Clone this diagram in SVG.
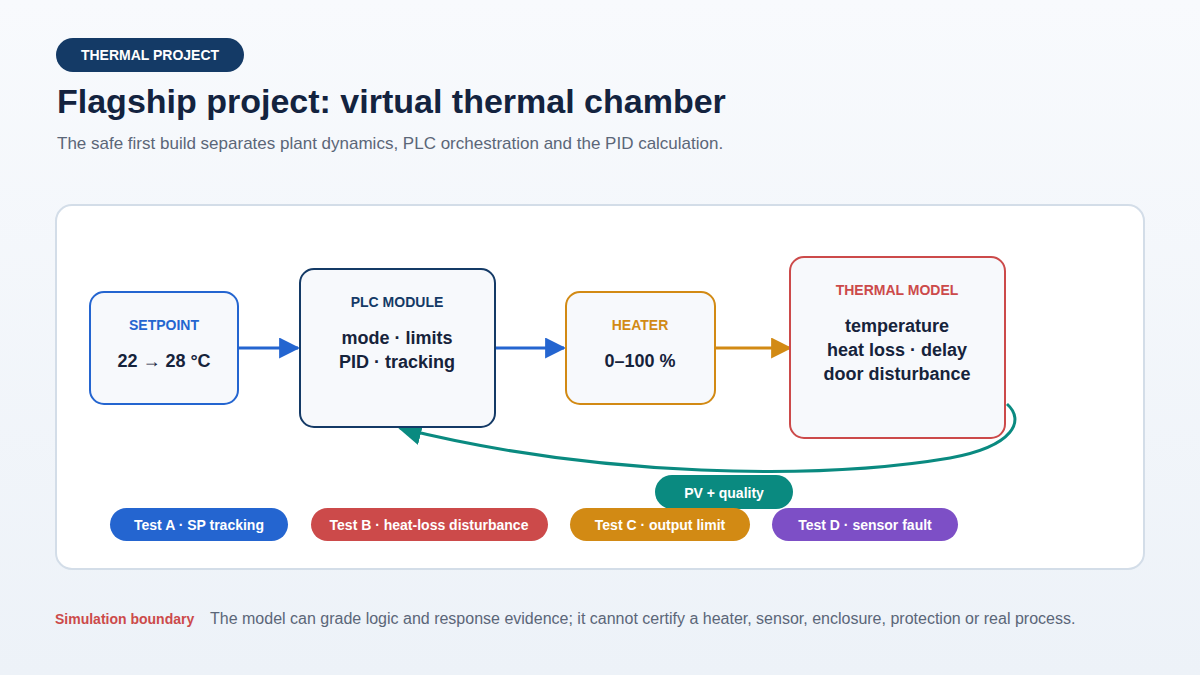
<svg xmlns="http://www.w3.org/2000/svg" width="1200" height="675" viewBox="0 0 1200 675">
<style>
text{font-family:"Liberation Sans",Arial,sans-serif}
.node{fill:#f7f9fc;stroke-width:2}
.cap{font-size:14px;font-weight:700;text-anchor:middle}
.body{font-size:18px;font-weight:700;fill:#16233b;text-anchor:middle}
.pill{font-size:14px;font-weight:700;fill:#fff;text-anchor:middle}
</style>
<defs>
<linearGradient id="bg" x1="0" y1="0" x2="0" y2="1"><stop offset="0" stop-color="#f8fafd"/><stop offset="1" stop-color="#edf2f8"/></linearGradient>
<marker id="ab" viewBox="0 0 10 10" refX="9" refY="5" markerWidth="7" markerHeight="7" orient="auto"><path d="M0,0L10,5L0,10z" fill="#2465d0"/></marker>
<marker id="ao" viewBox="0 0 10 10" refX="9" refY="5" markerWidth="7" markerHeight="7" orient="auto"><path d="M0,0L10,5L0,10z" fill="#d28a14"/></marker>
<marker id="at" viewBox="0 0 10 10" refX="9" refY="5" markerWidth="8" markerHeight="8" orient="auto"><path d="M0,0L10,5L0,10z" fill="#0a8a80"/></marker>
</defs>
<rect width="1200" height="675" fill="url(#bg)"/>
<rect x="56" y="38" width="188" height="34" rx="17" fill="#143a66"/>
<text x="150" y="60" class="pill">THERMAL PROJECT</text>
<text x="57" y="113" style="font-size:34px;font-weight:700;fill:#13233f">Flagship project: virtual thermal chamber</text>
<text x="57" y="149" style="font-size:17px;fill:#5b6678">The safe first build separates plant dynamics, PLC orchestration and the PID calculation.</text>
<rect x="56" y="205" width="1088" height="364" rx="16" fill="#fff" stroke="#d3dde8" stroke-width="2"/>
<g id="connectors" fill="none" stroke-width="3">
<path d="M238,348H298" stroke="#2465d0" marker-end="url(#ab)"/>
<path d="M496,348H564" stroke="#2465d0" marker-end="url(#ab)"/>
<path d="M716,348H790" stroke="#d28a14" marker-end="url(#ao)"/>
<path d="M1007,404C1025,420 1015,446 950,458C820,480 600,478 400,428" stroke="#0a8a80" marker-end="url(#at)"/>
</g>
<g id="setpoint"><rect class="node" x="90" y="292" width="148" height="112" rx="14" stroke="#2465d0"/>
<text x="164" y="330" class="cap" fill="#2465d0">SETPOINT</text><text x="164" y="367" class="body">22 → 28 °C</text></g>
<g id="plc"><rect class="node" x="300" y="269" width="195" height="158" rx="14" stroke="#143a66"/>
<text x="397" y="307" class="cap" fill="#143a66">PLC MODULE</text><text x="397" y="344" class="body">mode · limits</text><text x="397" y="368" class="body">PID · tracking</text></g>
<g id="heater"><rect class="node" x="566" y="292" width="149" height="112" rx="14" stroke="#d28a14"/>
<text x="640" y="330" class="cap" fill="#d28a14">HEATER</text><text x="640" y="367" class="body">0–100 %</text></g>
<g id="thermal"><rect class="node" x="790" y="257" width="215" height="181" rx="14" stroke="#cc4a4a"/>
<text x="897" y="295" class="cap" fill="#cc4a4a">THERMAL MODEL</text><text x="897" y="332" class="body">temperature</text><text x="897" y="356" class="body">heat loss · delay</text><text x="897" y="380" class="body">door disturbance</text></g>
<g id="pv"><rect x="655" y="475" width="138" height="34" rx="17" fill="#0a8a80"/><text x="724" y="498" class="pill">PV + quality</text></g>
<g id="tA"><rect x="110" y="508" width="178" height="33" rx="16.5" fill="#2465d0"/><text x="199" y="530" class="pill">Test A · SP tracking</text></g>
<g id="tB"><rect x="311" y="508" width="237" height="33" rx="16.5" fill="#cc4a4a"/><text x="429" y="530" class="pill">Test B · heat-loss disturbance</text></g>
<g id="tC"><rect x="570" y="508" width="180" height="33" rx="16.5" fill="#d28a14"/><text x="660" y="530" class="pill">Test C · output limit</text></g>
<g id="tD"><rect x="772" y="508" width="186" height="33" rx="16.5" fill="#7d4fc6"/><text x="865" y="530" class="pill">Test D · sensor fault</text></g>
<text x="55" y="624" style="font-size:14px;font-weight:700;fill:#cc4a4a">Simulation boundary</text>
<text x="210" y="624" style="font-size:16px;fill:#5b6678">The model can grade logic and response evidence; it cannot certify a heater, sensor, enclosure, protection or real process.</text>
</svg>
